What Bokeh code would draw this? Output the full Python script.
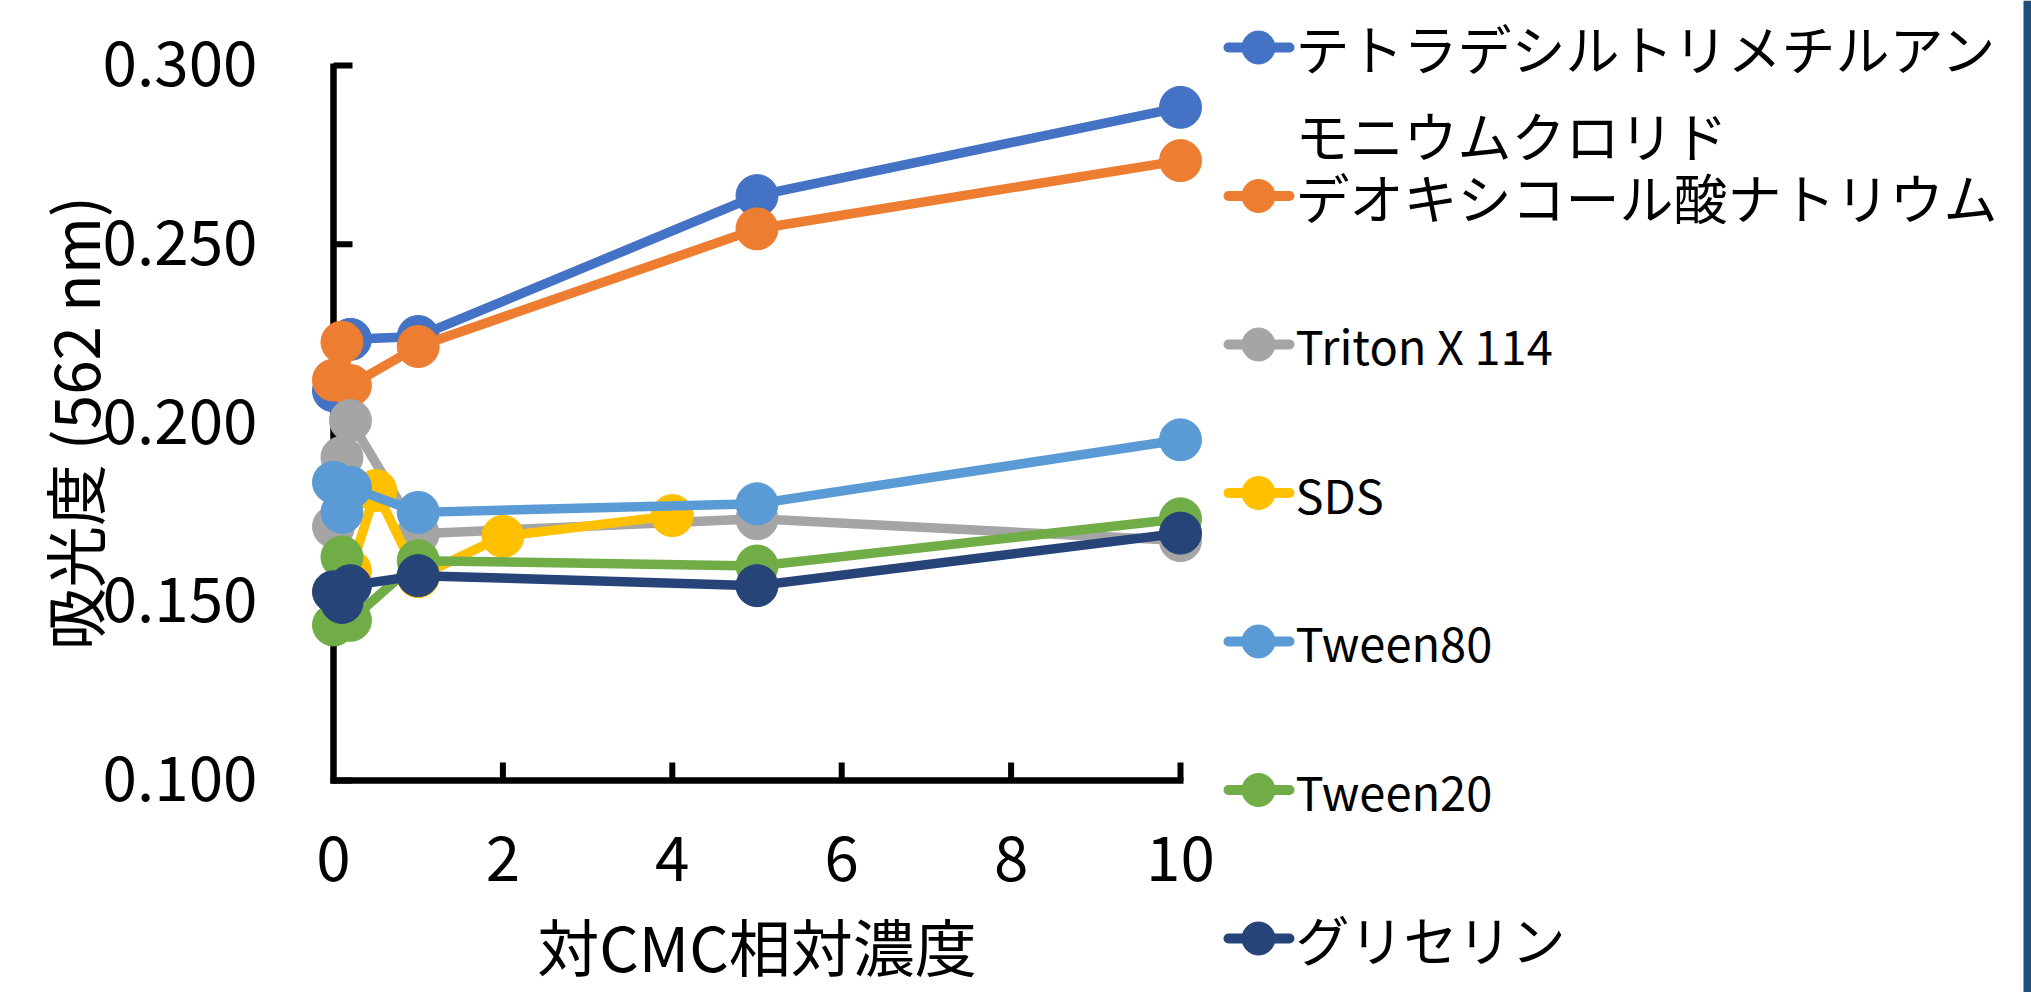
import math
from bokeh.plotting import figure
from bokeh.models import Range1d
from bokeh.embed import file_html
from bokeh.resources import INLINE
from bokeh.core.properties import value

# ---------------- data ----------------
series_names = [
    "テトラデシルトリメチルアン\nモニウムクロリド",
    "デオキシコール酸ナトリウム",
    "Triton X 114",
    "SDS",
    "Tween80",
    "Tween20",
    "グリセリン",
]
series_colors = ["#4472C4", "#ED7D31", "#A5A5A5", "#FFC000", "#5B9BD5", "#70AD47", "#264478"]

ttab_x = [0, 0.2, 1, 5, 10]
ttab_y = [0.209, 0.2234, 0.2242, 0.2636, 0.2883]
doc_x = [0, 0.1, 0.2, 1, 5, 10]
doc_y = [0.212, 0.2226, 0.2105, 0.2214, 0.2543, 0.2734]
triton_x = [0, 0.1, 0.2, 1, 5, 10]
triton_y = [0.171, 0.1904, 0.2007, 0.169, 0.1732, 0.1671]
sds_x = [0.2, 0.5, 1, 2, 4]
sds_y = [0.1587, 0.1811, 0.157, 0.1683, 0.1741]
tw80_x = [0, 0.1, 0.2, 1, 5, 10]
tw80_y = [0.1834, 0.175, 0.182, 0.175, 0.1774, 0.1953]
tw20_x = [0, 0.1, 0.2, 1, 5, 10]
tw20_y = [0.1435, 0.1625, 0.1448, 0.1615, 0.160, 0.1732]
gly_x = [0, 0.1, 0.2, 1, 5, 10]
gly_y = [0.1528, 0.1498, 0.1545, 0.1573, 0.1545, 0.1692]

series_x = [ttab_x, doc_x, triton_x, sds_x, tw80_x, tw20_x, gly_x]
series_y = [ttab_y, doc_y, triton_y, sds_y, tw80_y, tw20_y, gly_y]

x_ticks = [0, 2, 4, 6, 8, 10]
y_ticks = [0.100, 0.150, 0.200, 0.250, 0.300]
x_title = "対CMC相対濃度"
y_title = "吸光度 (562 nm)"

# ---------------- geometry (page pixels -> data units) ----------------
FONT = value("Noto Sans CJK JP")
W, H = 2031, 992
PAGE = 0
SX = 84.7            # px per x unit
SY = 3575.0          # px per y unit
X_ORIGIN_PX = 333    # page x of x = 0
Y_BASE_PX = 780      # page y of y = 0.1


def xd(px):
    return (px - X_ORIGIN_PX) / SX


def yd(py):
    return y_ticks[0] + (Y_BASE_PX - py) / SY


p = figure(width=W, height=H, output_backend="svg", toolbar_location=None,
           x_range=Range1d(xd(PAGE), xd(PAGE + W)),
           y_range=Range1d(yd(PAGE + H), yd(PAGE)),
           x_axis_location=None, y_axis_location=None, min_border=0)
p.outline_line_color = None
p.xgrid.visible = False
p.ygrid.visible = False
p.background_fill_color = "white"
p.border_fill_color = "white"

# slide border strip at the right edge
p.quad(left=[xd(2023)], right=[xd(2031)], bottom=[yd(992)], top=[yd(0)],
       fill_color="#1F4E79", line_color=None)

# ---------------- axes (lines, inward ticks, labels) ----------------
AXW = 6.5
p.segment(x0=[x_ticks[0]], y0=[y_ticks[0] - 3 / SY], x1=[x_ticks[0]], y1=[y_ticks[-1] + 2 / SY],
          line_color="black", line_width=AXW)
p.segment(x0=[x_ticks[0] - 3 / SX], y0=[y_ticks[0]], x1=[x_ticks[-1] + 3 / SX], y1=[y_ticks[0]],
          line_color="black", line_width=AXW)
p.segment(x0=[x_ticks[0]] * len(y_ticks), y0=y_ticks,
          x1=[x_ticks[0] + 19 / SX] * len(y_ticks), y1=y_ticks,
          line_color="black", line_width=6)
p.segment(x0=x_ticks[1:], y0=[y_ticks[0]] * (len(x_ticks) - 1),
          x1=x_ticks[1:], y1=[y_ticks[0] + 18 / SY] * (len(x_ticks) - 1),
          line_color="black", line_width=6)

p.text(x=[xd(257)] * len(y_ticks), y=[t + 2 / SY for t in y_ticks],
       text=[f"{t:.3f}" for t in y_ticks], text_font=FONT, text_font_size="62px",
       text_align="right", text_baseline="middle", text_color="black")
p.text(x=x_ticks, y=[yd(858)] * len(x_ticks), text=[str(t) for t in x_ticks],
       text_font=FONT, text_font_size="62px", text_align="center",
       text_baseline="middle", text_color="black")
p.text(x=[(x_ticks[0] + x_ticks[-1]) / 2], y=[yd(944)], text=[x_title], text_font=FONT,
       text_font_size="62px", text_align="center", text_baseline="middle", text_color="black")
p.text(x=[xd(72)], y=[(y_ticks[0] + y_ticks[-1]) / 2], text=[y_title], text_font=FONT,
       text_font_size="62px", text_align="center", text_baseline="middle",
       angle=math.pi / 2, text_color="black")

# ---------------- series ----------------
for xs, ys, c in zip(series_x, series_y, series_colors):
    p.line(xs, ys, line_color=c, line_width=9.5, line_join="round")
    p.scatter(xs, ys, marker="circle", size=42, fill_color=c, line_color=c, line_width=1)

# ---------------- legend ----------------
ITEM_Y0 = 47
ITEM_STEP = 148.5
LINE_STEP = 87
for i, (name, c) in enumerate(zip(series_names, series_colors)):
    yc = ITEM_Y0 + i * ITEM_STEP
    p.line([xd(1228), xd(1289)], [yd(yc), yd(yc)], line_color=c, line_width=10, line_cap="round")
    p.scatter([xd(1258)], [yd(yc)], marker="circle", size=33, fill_color=c, line_color=c)
    size = "47px" if name.isascii() else "54px"
    for k, part in enumerate(name.split("\n")):
        p.text([xd(1295)], [yd(yc + k * LINE_STEP)], text=[part], text_font=FONT,
               text_font_size=size, text_baseline="middle", text_align="left",
               text_color="black")

open("out.html", "w").write(file_html(p, INLINE))
